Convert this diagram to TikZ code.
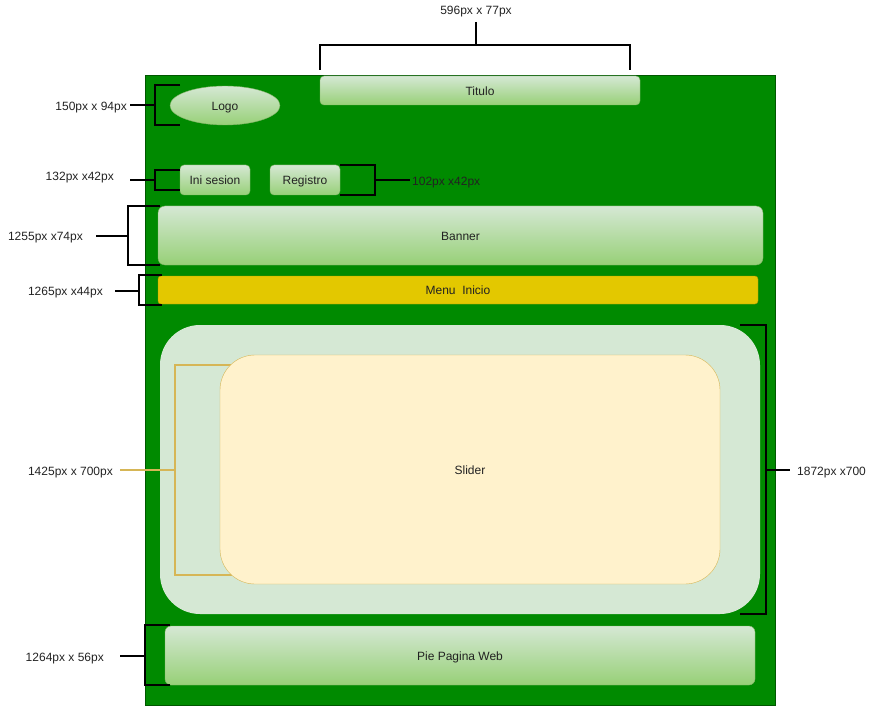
\documentclass[tikz,border=0pt]{standalone}
\usepackage{fontspec}
\setmainfont{Liberation Sans}
\usetikzlibrary{shapes.geometric}
\definecolor{bggreen}{HTML}{008A00}
\definecolor{bgstroke}{HTML}{005700}
\definecolor{gtop}{HTML}{D5E8D4}
\definecolor{gbot}{HTML}{97D077}
\definecolor{gstroke}{HTML}{82B366}
\definecolor{ylw}{HTML}{E3C800}
\definecolor{ylwstroke}{HTML}{B09500}
\definecolor{lgreen}{HTML}{D5E8D4}
\definecolor{cream}{HTML}{FFF2CC}
\definecolor{tan}{HTML}{D6B656}
\definecolor{txt}{HTML}{222222}
\tikzset{
  ctext/.style={text height=10pt, text depth=0.4pt},
  gbox/.style={ctext, draw=gstroke, top color=gtop, bottom color=gbot, rounded corners=4pt, text=txt, inner sep=0pt},
  brk/.style={draw=black, line width=1.3pt},
  tbrk/.style={draw=tan, line width=1.3pt},
  lbl/.style={text=txt, inner sep=0pt, yshift=-1.5pt}
}
\begin{document}
\begin{tikzpicture}[x=1pt,y=-1pt, every node/.style={font=\fontsize{12}{14}\selectfont}]
\useasboundingbox (0,0) rectangle (871,706);
% background
\node[draw=bgstroke, fill=bggreen, minimum width=630pt, minimum height=630pt, inner sep=0pt] (bg) at (460,390) {};
% boxes
\node[gbox, minimum width=320pt, minimum height=29pt] (titulo) at (480,90.5) {Titulo};
\node[ellipse, ctext, draw=gstroke, top color=gtop, bottom color=gbot, minimum width=110pt, minimum height=39pt, inner sep=0pt, text=txt] (logo) at (225,105.5) {Logo};
\node[gbox, minimum width=70pt, minimum height=30pt] (ini) at (215,180) {Ini sesion};
\node[gbox, minimum width=70pt, minimum height=30pt] (reg) at (305,180) {Registro};
\node[gbox, rounded corners=7pt, minimum width=605pt, minimum height=59pt] (banner) at (460.5,235.5) {Banner};
\node[ctext, draw=ylwstroke, fill=ylw, rounded corners=3pt, minimum width=600pt, minimum height=28pt, inner sep=0pt, text=txt] (menu) at (458,290) {Menu\ \ Inicio};
\node[fill=lgreen, rounded corners=40pt, minimum width=600pt, minimum height=289pt, inner sep=0pt] (cont) at (460,469.5) {};
% tan bracket (behind slider)
\coordinate (tA) at (232,365);
\coordinate (tB) at (232,575);
\coordinate (tS) at (120,470);
\draw[tbrk] (tA) -- (175,365) -- (175,575) -- (tB);
\draw[tbrk] (tS) -- (175,470);
\node[ctext, draw=tan, fill=cream, rounded corners=35pt, minimum width=500pt, minimum height=229pt, inner sep=0pt, text=txt] (slider) at (470,469.5) {Slider};
\node[gbox, rounded corners=6pt, minimum width=590pt, minimum height=59pt] (pie) at (460,655.5) {Pie Pagina Web};
% labels
\node[lbl] (l1) at (476,10) {596px x 77px};
\node[lbl, anchor=east] (l2) at (127,106) {150px x 94px};
\node[lbl, anchor=east] (l3) at (114,176) {132px x42px};
\node[lbl, anchor=west] (l4) at (412,181) {102px x42px};
\node[lbl, anchor=east] (l5) at (83,236) {1255px x74px};
\node[lbl, anchor=east] (l6) at (103,291) {1265px x44px};
\node[lbl, anchor=east] (l7) at (113,471) {1425px x 700px};
\node[lbl, anchor=west] (l8) at (797,471) {1872px x700};
\node[lbl, anchor=east] (l9) at (104,657) {1264px x 56px};
% titulo bracket
\coordinate (tt1) at (320,70);
\coordinate (tt2) at (630,70);
\coordinate (tt3) at (476,22);
\draw[brk] (tt1) -- (320,45) -- (630,45) -- (tt2);
\draw[brk] (tt3) -- (476,45);
% logo bracket
\draw[brk] (180,85) -- (155,85) -- (155,125) -- (180,125);
\draw[brk] (130,105) -- (155,105);
% ini bracket
\draw[brk] (180,170) -- (155,170) -- (155,190) -- (180,190);
\draw[brk] (130,180) -- (155,180);
% registro bracket
\draw[brk] (340,165) -- (375,165) -- (375,195) -- (340,195);
\draw[brk] (375,180) -- (410,180);
% banner bracket
\draw[brk] (160,206) -- (128,206) -- (128,265) -- (160,265);
\draw[brk] (96,236) -- (128,236);
% menu bracket
\draw[brk] (162,275) -- (139,275) -- (139,305) -- (162,305);
\draw[brk] (115,291) -- (139,291);
% right bracket
\draw[brk] (740,325) -- (766,325) -- (766,614) -- (740,614);
\draw[brk] (766,470) -- (790,470);
% pie bracket
\draw[brk] (170,625) -- (145,625) -- (145,685) -- (170,685);
\draw[brk] (120,656) -- (145,656);
\end{tikzpicture}
\end{document}
